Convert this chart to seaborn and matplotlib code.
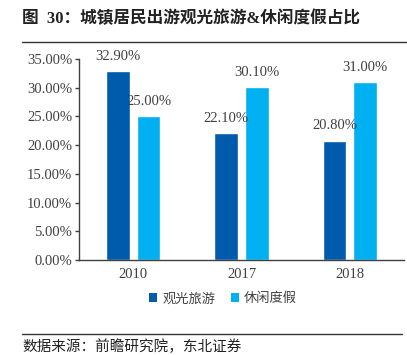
import matplotlib
matplotlib.use("Agg")
import matplotlib.pyplot as plt
from matplotlib.lines import Line2D
from matplotlib.patches import Patch
import pandas as pd
import seaborn as sns

years = ["2010", "2017", "2018"]
sightseeing = [0.329, 0.221, 0.208]
leisure = [0.250, 0.301, 0.310]
series_names = ["观光旅游", "休闲度假"]
colors = ["#005BAC", "#00B0F0"]
yticks = [0.0, 0.05, 0.10, 0.15, 0.20, 0.25, 0.30, 0.35]

title = "图  30：城镇居民出游观光旅游&休闲度假占比"
source = "数据来源：前瞻研究院，东北证券"


def main() -> None:
    df = pd.DataFrame({
        "year": years * 2,
        "value": sightseeing + leisure,
        "series": [series_names[0]] * 3 + [series_names[1]] * 3,
    })

    sns.set_theme(style="white")
    plt.rcParams["font.family"] = ["Liberation Serif", "Noto Sans CJK SC"]
    plt.rcParams["axes.unicode_minus"] = False

    W, H = 407, 355
    fig = plt.figure(figsize=(W / 100, H / 100), dpi=100)
    ax = fig.add_axes([79 / W, (H - 260) / H, (404 - 79) / W, (260 - 59) / H])

    sns.barplot(data=df, x="year", y="value", hue="series", order=years,
                hue_order=series_names, palette=colors, width=0.57, gap=0.23,
                saturation=1, ax=ax, legend=False, errorbar=None)

    for cont in ax.containers:
        ax.bar_label(cont, labels=[f"{v:.2%}" for v in cont.datavalues],
                     padding=6, fontsize=10.5, color="#404040")

    ax.set_ylim(0, 0.35)
    ax.set_xlim(-0.5, 2.5)
    ax.set_yticks(yticks)
    ax.set_yticklabels([f"{v:.2%}" for v in yticks], fontsize=10.5, color="#404040")
    ax.set_xticks(range(len(years)))
    ax.set_xticklabels(years, fontsize=10.5, color="#404040")
    ax.set_xticks([-0.5, 0.5, 1.5, 2.5], minor=True)
    ax.tick_params(axis="x", which="major", length=0, pad=6)
    ax.tick_params(axis="x", which="minor", length=4, direction="out", color="#404040", width=1)
    ax.tick_params(axis="y", length=3, direction="out", color="#404040", width=1, pad=2, left=True)
    ax.set_xlabel("")
    ax.set_ylabel("")
    for s in ["top", "right"]:
        ax.spines[s].set_visible(False)
    for s in ["left", "bottom"]:
        ax.spines[s].set_color("#404040")
        ax.spines[s].set_linewidth(1)

    handles = [Patch(facecolor=c, edgecolor="none") for c in colors]
    fig.legend(handles, series_names, loc="center", bbox_to_anchor=(223 / W, 1 - 299 / H),
               ncol=2, frameon=False, fontsize=9.5, handlelength=0.6, handleheight=0.6,
               handletextpad=0.4, columnspacing=1.2, labelcolor="#404040")

    fig.text(22 / W, 1 - 19 / H, title, fontsize=12, fontweight="bold",
             va="center", ha="left", color="#222222")
    fig.add_artist(Line2D([22 / W, 1.0], [1 - 42 / H, 1 - 42 / H], color="#333333", linewidth=1))
    fig.add_artist(Line2D([22 / W, 402 / W], [1 - 334 / H, 1 - 334 / H], color="#333333", linewidth=1))
    fig.text(22 / W, 1 - 347 / H, source, fontsize=10.5, va="center", ha="left", color="#222222")

    fig.savefig("out.png", dpi=100)


if __name__ == "__main__":
    main()
